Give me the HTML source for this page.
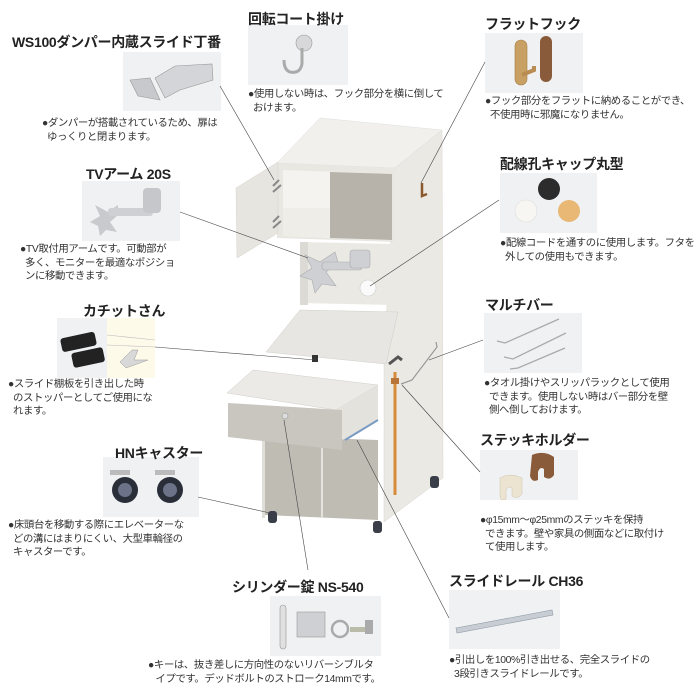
<!DOCTYPE html>
<html><head><meta charset="utf-8"><style>
*{margin:0;padding:0;box-sizing:border-box}
body{width:700px;height:687px;background:#fff;position:relative;overflow:hidden;font-family:"Liberation Sans","Noto Sans CJK JP",sans-serif;color:#222}
.t{position:absolute;font-weight:bold;font-size:14px;white-space:nowrap;letter-spacing:-0.3px}
.d{position:absolute;font-size:10.4px;line-height:13.5px;color:#333;white-space:nowrap;letter-spacing:-0.4px}
svg{position:absolute;left:0;top:0}
</style></head><body>
<svg width="700" height="687" viewBox="0 0 700 687">
<!-- photo backgrounds -->
<g fill="#eff1f3">
<rect x="123" y="52" width="98" height="59"/>
<rect x="248" y="25" width="100" height="60"/>
<rect x="485" y="33" width="98" height="60"/>
<rect x="500" y="173" width="97" height="60"/>
<rect x="82" y="181" width="98" height="60"/>
<rect x="57" y="318" width="50" height="60"/>
<rect x="107" y="318" width="48" height="60" fill="#fdfaea"/>
<rect x="484" y="313" width="98" height="60"/>
<rect x="103" y="457" width="96" height="60"/>
<rect x="480" y="450" width="98" height="50"/>
<rect x="270" y="596" width="111" height="60"/>
<rect x="449" y="590" width="111" height="59"/>
</g>
<!-- photo contents -->
<g>
<!-- hinge -->
<polygon points="130,80 150,78 160,100 138,96" fill="#c8c9cc" stroke="#999" stroke-width="0.6"/>
<polygon points="155,78 175,66 212,64 213,80 180,90 165,98" fill="#d4d5d8" stroke="#999" stroke-width="0.6"/>
<!-- coat hook -->
<circle cx="304" cy="43" r="8" fill="#d8d8da" stroke="#999" stroke-width="0.6"/>
<path d="M302,48 L302,64 Q300,74 290,72 Q284,70 284,60" stroke="#aaa" stroke-width="3" fill="none"/>
<!-- flat hook -->
<rect x="515" y="40" width="12" height="45" rx="6" fill="#c9a064" stroke="#a57e45" stroke-width="0.6"/>
<rect x="540" y="36" width="12" height="46" rx="6" fill="#8a5b3a"/>
<path d="M522,75 L534,70 L534,66" stroke="#b98d52" stroke-width="4" fill="none"/>
<!-- caps -->
<circle cx="549" cy="189" r="11" fill="#2c2c2c"/>
<circle cx="526" cy="211" r="11" fill="#f7f6f2" stroke="#ddd" stroke-width="0.6"/>
<circle cx="569" cy="211" r="11" fill="#e8b874"/>
<!-- tv arm photo -->
<polygon points="95,205 108,212 118,205 118,215 110,222 117,232 106,230 100,236 98,226 90,222 100,216" fill="#c9cacd"/>
<rect x="108" y="208" width="45" height="8" rx="3" fill="#cfd0d3"/>
<rect x="143" y="188" width="18" height="25" rx="4" fill="#c6c7ca"/>
<!-- kachitto -->
<rect x="61" y="335" width="35" height="14" rx="3" fill="#222" transform="rotate(-12 78 342)"/>
<rect x="72" y="350" width="32" height="15" rx="3" fill="#222" transform="rotate(-12 88 357)"/>
<g stroke="#bbb" stroke-width="0.6"><line x1="107" y1="335" x2="155" y2="340"/><line x1="107" y1="345" x2="155" y2="347"/></g>
<polygon points="120,362 132,350 138,350 134,360 148,360 126,368" fill="#d8d8d8" stroke="#999" stroke-width="0.5"/>
<!-- multibar -->
<g stroke="#aaa" stroke-width="1.3" fill="none">
<path d="M497,341 L505,343 L559,319"/><path d="M504,357 L513,359 L566,333"/><path d="M510,369 L518,368 L565,348"/>
</g>
<!-- casters -->
<g><rect x="110" y="470" width="20" height="5" fill="#bbb"/><circle cx="125" cy="490" r="13" fill="#2a2e38"/><circle cx="125" cy="490" r="7" fill="#6c7388"/>
<rect x="155" y="470" width="20" height="5" fill="#bbb"/><circle cx="170" cy="490" r="13" fill="#2a2e38"/><circle cx="170" cy="490" r="7" fill="#6c7388"/></g>
<!-- stick holders -->
<path d="M532,455 q12,-5 22,2 l0,18 q-4,6 -10,2 l0,-8 q-4,-3 -6,3 l0,8 q-6,3 -8,-4 z" fill="#8a5b3a"/>
<path d="M500,478 q10,-6 22,0 l0,16 q-4,6 -10,2 l0,-8 q-4,-3 -6,3 l0,8 q-6,3 -6,-4 z" fill="#ece3d0" stroke="#cfc5b0" stroke-width="0.5"/>
<!-- lock -->
<rect x="280" y="605" width="6" height="44" rx="3" fill="#e0e0e0" stroke="#999" stroke-width="0.6"/>
<rect x="297" y="612" width="28" height="25" fill="#cfd0d3" stroke="#999" stroke-width="0.6"/>
<circle cx="340" cy="629" r="8" fill="none" stroke="#aaa" stroke-width="2.5"/>
<rect x="350" y="627" width="22" height="5" fill="#bba"/>
<rect x="365" y="620" width="8" height="14" fill="#aaa"/>
<!-- rail -->
<polygon points="456,628 552,610 553,615 457,633" fill="#c8cdd4" stroke="#8e98a5" stroke-width="0.6"/>
</g>

<!-- right side body -->
<polygon points="395,168 442,130 443,478 384,522 384,357" fill="#ebe9e3" stroke="#d8d6d0" stroke-width="0.5"/>
<polygon points="277,163 320,118 442,130 395,168" fill="#f1f0ec" stroke="#ddd" stroke-width="0.5"/>
<polygon points="277,163 395,168 395,242 277,238" fill="#e9e7e1"/>
<polygon points="283,170 392,174 392,240 283,236" fill="#f4f3ef"/>
<polygon points="330,172 392,174 392,240 330,238" fill="#b7b3ab"/>
<polygon points="283,208 330,208 330,237 283,236" fill="#eeede8"/>
<polygon points="236,188 278,162 278,233 237,258" fill="#e7e5df" stroke="#d5d3cd" stroke-width="0.5"/>
<polygon points="300,242 395,244 395,305 300,303" fill="#ebe9e3"/>
<polygon points="300,242 308,242 308,305 300,305" fill="#dcdad4"/>
<g fill="#cfd0d3" stroke="#a9abb0" stroke-width="0.6">
<polygon points="305,255 320,262 335,252 338,262 326,272 336,286 322,284 315,293 312,280 300,276 312,268"/>
<rect x="322" y="262" width="40" height="8" rx="3"/>
<rect x="350" y="250" width="20" height="18" rx="3"/>
</g>
<circle cx="368" cy="288" r="8" fill="#fafafa" stroke="#ccc" stroke-width="0.6"/>
<polygon points="266,352 300,310 398,312 386,364" fill="#e7e6e2" stroke="#d0cec8" stroke-width="0.5"/>
<polygon points="265,436 378,440 378,520 265,515" fill="#bfbcb4"/>
<line x1="322" y1="438" x2="322" y2="518" stroke="#e4e2dc" stroke-width="2"/>
<polygon points="262,432 265,432 265,518 262,518" fill="#e0ded8"/>
<polygon points="227,393 253,370 378,385 336,410" fill="#eceae6" stroke="#cfcdc7" stroke-width="0.5"/>
<polygon points="336,410 378,385 378,420 343,440" fill="#e4e2dd"/>
<polygon points="228,403 342,410 342,450 228,437" fill="#c9c6bf"/>
<line x1="345" y1="440" x2="378" y2="420" stroke="#7a9bc4" stroke-width="2"/>
<circle cx="285" cy="416" r="3" fill="#ddd" stroke="#888" stroke-width="0.5"/>
<rect x="312" y="355" width="6" height="7" fill="#333"/>
<g fill="#3a3e48"><rect x="268" y="511" width="9" height="12" rx="3"/><rect x="373" y="521" width="9" height="12" rx="3"/><rect x="430" y="476" width="9" height="12" rx="3"/></g>
<line x1="395" y1="372" x2="395" y2="495" stroke="#d68c3a" stroke-width="3"/>
<path d="M389,364 L398,357 L402,360" stroke="#555" stroke-width="3" fill="none"/>
<rect x="391" y="378" width="8" height="6" fill="#b8753a"/>
<path d="M401,384 L412,380 L437,347 L436,342" stroke="#999" stroke-width="1.2" fill="none"/>
<g stroke="#888" stroke-width="2" fill="none"><path d="M273,186 l6,-6 M273,192 l8,-7"/><path d="M273,222 l6,-6 M273,228 l8,-7"/></g>
<path d="M422,183 L422,196 L427,194" stroke="#8a5a2e" stroke-width="2.5" fill="none"/>
<g stroke="#444" stroke-width="0.6" fill="none">
<line x1="220" y1="86" x2="274" y2="180"/>
<line x1="485" y1="62" x2="421" y2="183"/>
<line x1="499" y1="200" x2="370" y2="286"/>
<line x1="180" y1="212" x2="308" y2="258"/>
<line x1="155" y1="347" x2="316" y2="360"/>
<line x1="483" y1="340" x2="429" y2="360"/>
<line x1="480" y1="472" x2="402" y2="385"/>
<line x1="198" y1="497" x2="270" y2="513"/>
<line x1="284" y1="420" x2="308" y2="570"/>
<line x1="357" y1="440" x2="449" y2="618"/>
</g>
</svg>

<div class="t" style="left:12px;top:32px">WS100ダンパー内蔵スライド丁番</div>
<div class="d" style="left:42px;top:117px">●ダンパーが搭載されているため、扉は<br>&nbsp;&nbsp;ゆっくりと閉まります。</div>

<div class="t" style="left:248px;top:9px">回転コート掛け</div>
<div class="d" style="left:248px;top:88px">●使用しない時は、フック部分を横に倒して<br>&nbsp;&nbsp;おけます。</div>

<div class="t" style="left:485px;top:14px">フラットフック</div>
<div class="d" style="left:485px;top:95px">●フック部分をフラットに納めることができ、<br>&nbsp;&nbsp;不使用時に邪魔になりません。</div>

<div class="t" style="left:500px;top:154px">配線孔キャップ丸型</div>
<div class="d" style="left:500px;top:237px">●配線コードを通すのに使用します。フタを<br>&nbsp;&nbsp;外しての使用もできます。</div>

<div class="t" style="left:86px;top:164px">TVアーム 20S</div>
<div class="d" style="left:20px;top:243px">●TV取付用アームです。可動部が<br>&nbsp;&nbsp;多く、モニターを最適なポジショ<br>&nbsp;&nbsp;ンに移動できます。</div>

<div class="t" style="left:83px;top:301px">カチットさん</div>
<div class="d" style="left:8px;top:378px">●スライド棚板を引き出した時<br>&nbsp;&nbsp;のストッパーとしてご使用にな<br>&nbsp;&nbsp;れます。</div>

<div class="t" style="left:485px;top:295px">マルチバー</div>
<div class="d" style="left:484px;top:377px">●タオル掛けやスリッパラックとして使用<br>&nbsp;&nbsp;できます。使用しない時はバー部分を壁<br>&nbsp;&nbsp;側へ倒しておけます。</div>

<div class="t" style="left:115px;top:443px">HNキャスター</div>
<div class="d" style="left:8px;top:519px">●床頭台を移動する際にエレベーターな<br>&nbsp;&nbsp;どの溝にはまりにくい、大型車輪径の<br>&nbsp;&nbsp;キャスターです。</div>

<div class="t" style="left:480px;top:430px">ステッキホルダー</div>
<div class="d" style="left:480px;top:514px">●φ15mm〜φ25mmのステッキを保持<br>&nbsp;&nbsp;できます。壁や家具の側面などに取付け<br>&nbsp;&nbsp;て使用します。</div>

<div class="t" style="left:232px;top:577px">シリンダー錠 NS-540</div>
<div class="d" style="left:148px;top:659px">●キーは、抜き差しに方向性のないリバーシブルタ<br>&nbsp;&nbsp;&nbsp;イプです。デッドボルトのストローク14mmです。</div>

<div class="t" style="left:449px;top:571px">スライドレール CH36</div>
<div class="d" style="left:449px;top:654px">●引出しを100%引き出せる、完全スライドの<br>&nbsp;&nbsp;3段引きスライドレールです。</div>
</body></html>
